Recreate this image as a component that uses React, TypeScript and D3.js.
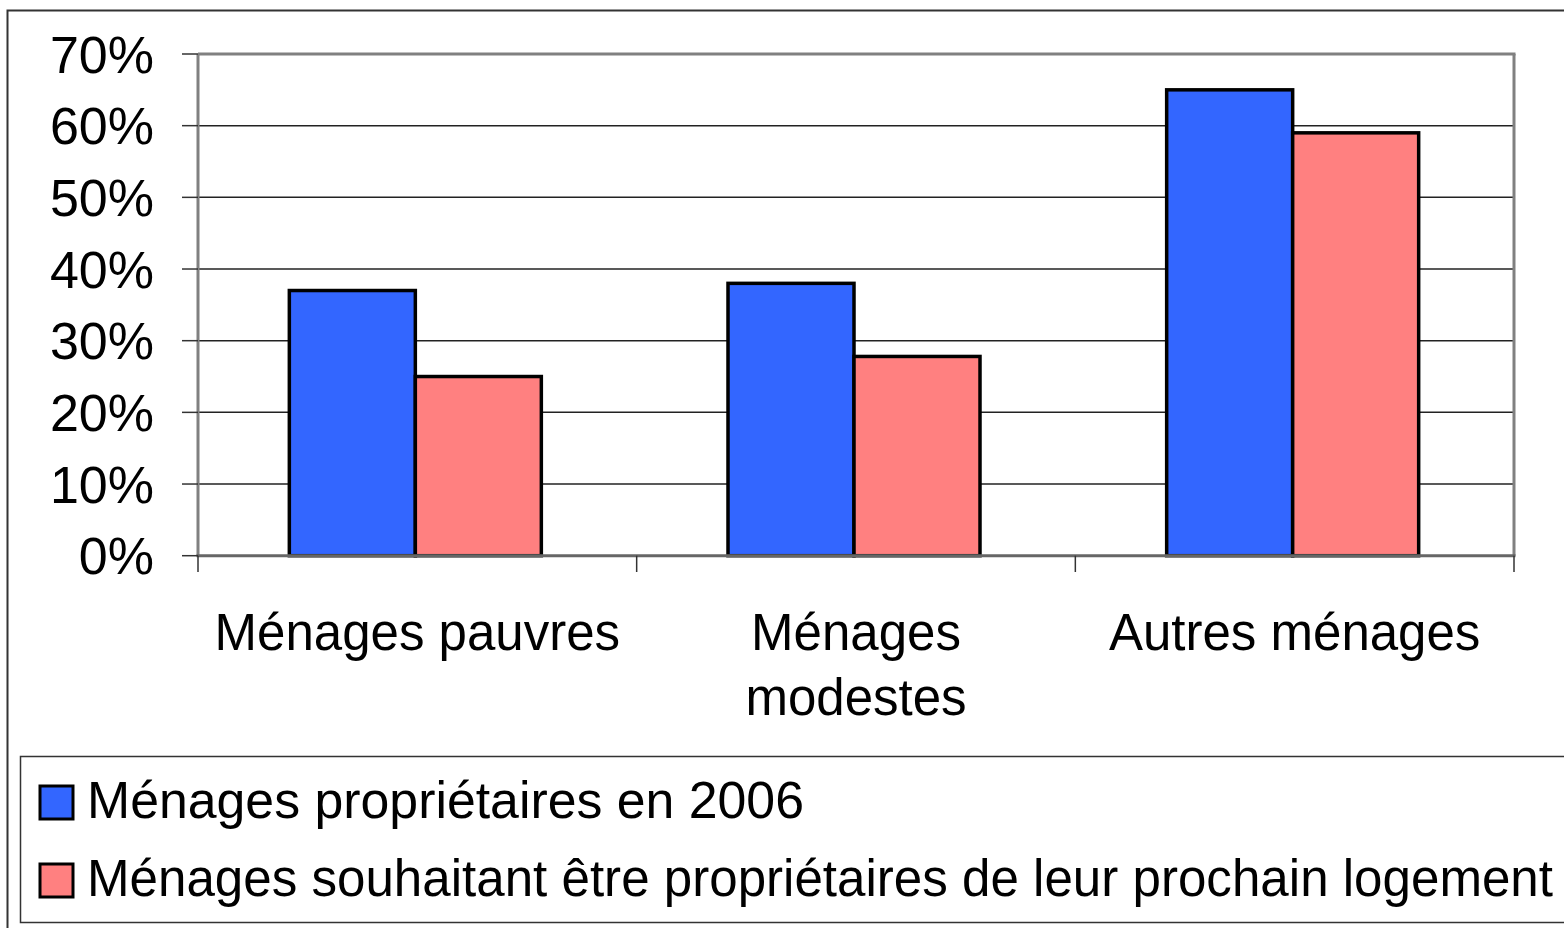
import React from "react";
import * as d3 from "d3";

const categories: string[][] = [["Ménages pauvres"], ["Ménages", "modestes"], ["Autres ménages"]];
const seriesNames = ["Ménages propriétaires en 2006", "Ménages souhaitant être propriétaires de leur prochain logement"];
const owners2006 = [37, 38, 65];
const wishOwners = [25, 27.8, 59];
const seriesColors = ["#3366FF", "#FF8080"];
const yTicks = [0, 10, 20, 30, 40, 50, 60, 70];

const W = 1564;
const H = 928;
const FONT = "'Liberation Sans', Arial, sans-serif";

export default function App() {
  const left = 198, right = 1514, top = 54, bottom = 555.7;
  const y = d3.scaleLinear().domain([0, 70]).range([bottom, top]);
  const x0 = d3.scaleBand<number>().domain(categories.map((_, i) => i)).range([left, right]).paddingInner(0).paddingOuter(0);
  const groupW = 252;
  const x1 = d3.scaleBand<number>().domain([0, 1]).range([0, groupW]).padding(0);
  const series = [owners2006, wishOwners];
  const boundaries = [0, 1, 2].map((i) => x0(i)!).concat([right]);
  const legendWidths = [717, 1466];

  return (
    <svg width={W} height={H} style={{ position: "absolute", left: 0, top: 0, background: "#fff" }} fontFamily={FONT}>
      <rect x={0} y={0} width={W} height={H} fill="#fff" />
      {/* outer border */}
      <rect x={7.5} y={10.5} width={W + 20} height={H + 20} fill="none" stroke="#333" strokeWidth={2} />
      {/* gridlines */}
      {yTicks.filter((t) => t > 0 && t < 70).map((t) => (
        <line key={"g" + t} x1={left} x2={right} y1={y(t)} y2={y(t)} stroke="#222" strokeWidth={1.5} />
      ))}
      {/* plot area border top/right */}
      <line x1={left} x2={right + 1.5} y1={top} y2={top} stroke="#808080" strokeWidth={3} />
      <line x1={right} x2={right} y1={top} y2={bottom} stroke="#808080" strokeWidth={3} />
      {/* bars */}
      {series.map((vals, s) =>
        vals.map((v, i) => (
          <rect
            key={`b${s}-${i}`}
            x={x0(i)! + (x0.bandwidth() - groupW) / 2 - 2 + x1(s)!}
            y={y(v)}
            width={x1.bandwidth()}
            height={bottom - y(v)}
            fill={seriesColors[s]}
            stroke="#000"
            strokeWidth={3.5}
          />
        ))
      )}
      {/* axes */}
      <line x1={left} x2={left} y1={top} y2={bottom} stroke="#808080" strokeWidth={3} />
      <line x1={left - 1.5} x2={right + 1.5} y1={bottom} y2={bottom} stroke="#666" strokeWidth={3} />
      {yTicks.map((t) => (
        <g key={"t" + t}>
          <line x1={182} x2={left} y1={y(t)} y2={y(t)} stroke="#333" strokeWidth={1.5} />
          <text x={154} y={y(t)} dy="0.36em" textAnchor="end" fontSize={52} fill="#000">
            {t}%
          </text>
        </g>
      ))}
      {boundaries.map((bx, i) => (
        <line key={"xt" + i} x1={bx} x2={bx} y1={bottom} y2={572} stroke="#333" strokeWidth={1.5} />
      ))}
      {categories.map((lines, i) => (
        <text key={"c" + i} x={x0(i)! + x0.bandwidth() / 2} textAnchor="middle" fontSize={51} fill="#000">
          {lines.map((l, k) => (
            <tspan key={k} x={x0(i)! + x0.bandwidth() / 2} y={650 + k * 65}>
              {l}
            </tspan>
          ))}
        </text>
      ))}
      {/* legend */}
      <rect x={20.5} y={756.5} width={W} height={166} fill="none" stroke="#333" strokeWidth={1.5} />
      {seriesNames.map((name, s) => (
        <g key={"l" + s}>
          <rect x={40} y={786 + s * 78} width={33} height={33} fill={seriesColors[s]} stroke="#000" strokeWidth={3} />
          <text
            x={87}
            y={818 + s * 78}
            fontSize={s === 0 ? 52 : 51}
            fill="#000"
            textLength={legendWidths[s]}
            lengthAdjust="spacingAndGlyphs"
          >
            {name}
          </text>
        </g>
      ))}
    </svg>
  );
}
